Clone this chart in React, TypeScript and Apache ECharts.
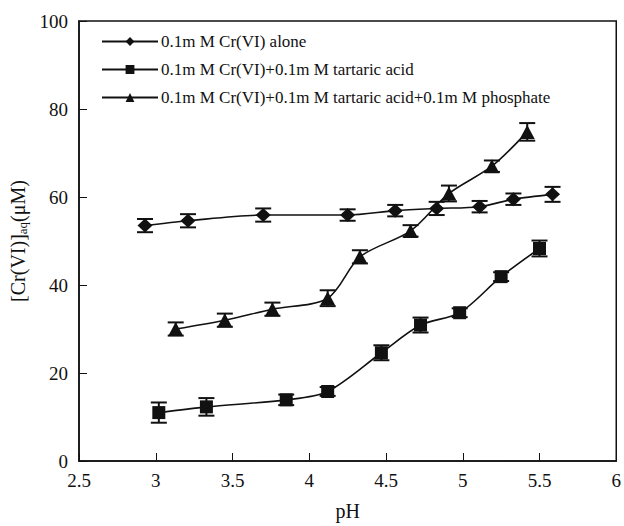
import React, { useEffect, useRef } from "react";
import * as echarts from "echarts";

const seriesNames = [
  "0.1m M Cr(VI) alone",
  "0.1m M Cr(VI)+0.1m M tartaric acid",
  "0.1m M Cr(VI)+0.1m M tartaric acid+0.1m M phosphate",
];

const phAlone = [2.93, 3.21, 3.7, 4.25, 4.56, 4.83, 5.11, 5.33, 5.585];
const crAlone = [53.5, 54.6, 55.9, 55.9, 56.9, 57.4, 57.8, 59.5, 60.6];
const errAlone = [1.5, 1.5, 1.5, 1.3, 1.3, 1.5, 1.3, 1.3, 1.7];

const phTart = [3.02, 3.33, 3.85, 4.12, 4.47, 4.725, 4.98, 5.25, 5.5];
const crTart = [11.0, 12.3, 13.9, 15.8, 24.6, 30.9, 33.7, 41.9, 48.3];
const errTart = [2.3, 2.0, 1.2, 1.0, 1.7, 1.7, 1.0, 1.0, 1.8];

const phPhos = [3.13, 3.45, 3.76, 4.12, 4.33, 4.66, 4.91, 5.19, 5.42];
const crPhos = [30.0, 32.0, 34.5, 37.0, 46.4, 52.3, 60.8, 67.0, 74.8];
const errPhos = [1.5, 1.5, 1.5, 1.8, 1.5, 1.3, 1.8, 1.3, 2.0];

const FONT = "Times New Roman, Liberation Serif, DejaVu Serif, serif";
const INK = "#111";

function pairs(xs: number[], ys: number[]) {
  return xs.map((x, i) => [x, ys[i]]);
}
function errData(xs: number[], ys: number[], es: number[]) {
  return xs.map((x, i) => [x, ys[i] - es[i], ys[i] + es[i]]);
}

function errorSeries(data: number[][]) {
  return {
    type: "custom",
    silent: true,
    z: 1,
    data,
    encode: { x: 0, y: [1, 2] },
    renderItem: (params: any, api: any) => {
      const x = api.value(0);
      const lo = api.coord([x, api.value(1)]);
      const hi = api.coord([x, api.value(2)]);
      const hw = 8;
      const style = { stroke: INK, lineWidth: 2 };
      return {
        type: "group",
        children: [
          { type: "line", shape: { x1: lo[0], y1: lo[1], x2: hi[0], y2: hi[1] }, style },
          { type: "line", shape: { x1: lo[0] - hw, y1: lo[1], x2: lo[0] + hw, y2: lo[1] }, style },
          { type: "line", shape: { x1: hi[0] - hw, y1: hi[1], x2: hi[0] + hw, y2: hi[1] }, style },
        ],
      };
    },
  };
}

function lineSeries(name: string, data: number[][], symbol: string, size: number[]) {
  return {
    name,
    type: "line",
    data,
    smooth: 0.3,
    symbol,
    symbolSize: size,
    showAllSymbol: true,
    z: 3,
    lineStyle: { color: INK, width: 1.6 },
    itemStyle: { color: INK, borderWidth: 0 },
  };
}

export default function App() {
  const ref = useRef<HTMLDivElement>(null);
  useEffect(() => {
    if (!ref.current) return;
    const chart = echarts.init(ref.current, null, { renderer: "svg" });
    chart.setOption({
      animation: false,
      backgroundColor: "#fff",
      textStyle: { fontFamily: FONT, color: INK },
      grid: {
        left: 79,
        right: 6,
        top: 21,
        bottom: 65,
        show: true,
        borderColor: INK,
        borderWidth: 1.5,
      },
      legend: {
        orient: "vertical",
        left: 101,
        top: 33,
        padding: 0,
        itemWidth: 56,
        itemHeight: 11,
        itemGap: 11,
        data: seriesNames,
        textStyle: { fontFamily: FONT, fontSize: 17, color: INK, padding: [0, 0, 0, -2] },
      },
      xAxis: {
        type: "value",
        min: 2.5,
        max: 6,
        interval: 0.5,
        name: "pH",
        nameLocation: "middle",
        nameGap: 40,
        nameTextStyle: { fontFamily: FONT, fontSize: 20, color: INK },
        axisLine: { show: true, lineStyle: { color: INK, width: 1.5 } },
        axisTick: { show: true, inside: true, length: 8, lineStyle: { color: INK, width: 1 } },
        axisLabel: { fontFamily: FONT, fontSize: 19, color: INK, margin: 10 },
        splitLine: { show: false },
      },
      yAxis: {
        type: "value",
        min: 0,
        max: 100,
        interval: 20,
        name: "[Cr(VI)]{sub|aq}(μM)",
        nameLocation: "middle",
        nameGap: 43,
        nameTextStyle: {
          fontFamily: FONT,
          fontSize: 20,
          color: INK,
          rich: {
            sub: { fontFamily: FONT, fontSize: 13, color: INK, verticalAlign: "bottom", padding: [8, 0, 0, 0] },
          },
        },
        axisLine: { show: true, lineStyle: { color: INK, width: 1.5 } },
        axisTick: { show: true, inside: true, length: 8, lineStyle: { color: INK, width: 1 } },
        axisLabel: { fontFamily: FONT, fontSize: 19, color: INK, margin: 11 },
        splitLine: { show: false },
      },
      series: [
        lineSeries(seriesNames[0], pairs(phAlone, crAlone), "diamond", [15, 14]),
        lineSeries(seriesNames[1], pairs(phTart, crTart), "rect", [13, 13]),
        lineSeries(seriesNames[2], pairs(phPhos, crPhos), "triangle", [15, 14]),
        errorSeries(errData(phAlone, crAlone, errAlone)),
        errorSeries(errData(phTart, crTart, errTart)),
        errorSeries(errData(phPhos, crPhos, errPhos)),
      ],
    });
    return () => chart.dispose();
  }, []);
  return (
    <div
      ref={ref}
      style={{ position: "absolute", left: 0, top: 0, width: 624, height: 526 }}
    />
  );
}
